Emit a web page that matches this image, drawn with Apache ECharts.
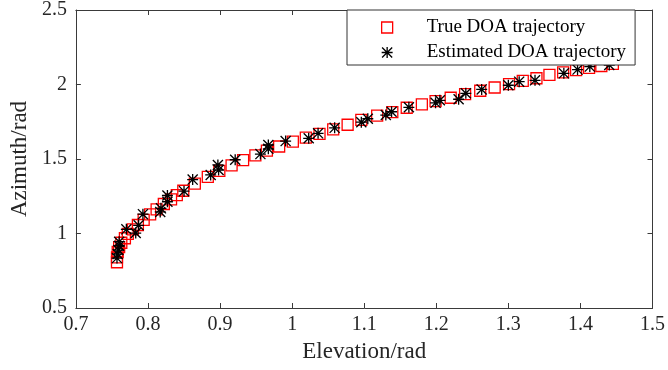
<!DOCTYPE html>
<html>
<head>
<meta charset="utf-8">
<script src="https://cdn.jsdelivr.net/npm/echarts@6/dist/echarts.min.js"></script>
<style>html,body{margin:0;padding:0;background:#fff;}#c{width:668px;height:370px;}</style>
</head>
<body>
<div id="c"></div>
<script>
// Elevation ticks / azimuth ticks
const xTicks = [0.7, 0.8, 0.9, 1, 1.1, 1.2, 1.3, 1.4, 1.5];
const yTicks = [0.5, 1, 1.5, 2, 2.5];

// True DOA trajectory
const trueElev = [0.757,0.757,0.758,0.760,0.763,0.768,0.772,0.779,0.786,0.794,0.803,0.812,0.822,0.832,0.840,0.849,0.865,0.883,0.899,0.916,0.932,0.949,0.965,0.982,1.001,1.019,1.038,1.057,1.077,1.096,1.118,1.139,1.159,1.180,1.199,1.220,1.240,1.261,1.281,1.301,1.320,1.339,1.357,1.376,1.394,1.412,1.429,1.445];
const trueAzim = [0.807,0.840,0.876,0.909,0.938,0.968,0.997,1.028,1.057,1.091,1.129,1.162,1.198,1.229,1.258,1.287,1.335,1.380,1.420,1.457,1.493,1.524,1.556,1.584,1.616,1.644,1.668,1.699,1.730,1.762,1.791,1.815,1.844,1.867,1.889,1.911,1.936,1.958,1.980,2.002,2.024,2.042,2.065,2.082,2.097,2.111,2.124,2.138];

// Estimated DOA trajectory
const estElev = [0.757,0.758,0.759,0.760,0.760,0.770,0.783,0.787,0.793,0.817,0.818,0.827,0.827,0.850,0.862,0.887,0.897,0.898,0.921,0.956,0.967,0.967,0.991,1.023,1.036,1.059,1.096,1.105,1.130,1.138,1.162,1.199,1.205,1.231,1.241,1.263,1.300,1.315,1.337,1.377,1.396,1.413,1.440];
const estAzim = [0.835,0.862,0.889,0.918,0.945,1.028,1.003,1.055,1.130,1.145,1.169,1.213,1.255,1.284,1.362,1.393,1.460,1.426,1.495,1.533,1.594,1.568,1.620,1.639,1.672,1.709,1.747,1.770,1.795,1.817,1.847,1.877,1.894,1.901,1.941,1.967,1.995,2.019,2.028,2.075,2.100,2.120,2.131];

const seriesNames = ['True DOA trajectory', 'Estimated DOA trajectory'];

const star = 'path://M4.4 0L5.6 0L5.6 10L4.4 10Z M0 4.4L10 4.4L10 5.6L0 5.6Z M0.85 0L10 9.15L9.15 10L0 0.85Z M9.15 0L10 0.85L0.85 10L0 9.15Z';

const font = 'Liberation Serif';
const axisColor = '#3a3a3a';
const textColor = '#262626';
const tickFont = 20;
const nameFont = 23;

const chart = echarts.init(document.getElementById('c'), null, {renderer: 'canvas'});

function axisCommon(show) {
  return {
    axisLine: {show: true, onZero: false, lineStyle: {color: axisColor, width: 1}},
    axisTick: {show: true, inside: true, length: 5, lineStyle: {color: axisColor}},
    splitLine: {show: false},
    axisLabel: {show: show, color: textColor, fontFamily: font, fontSize: tickFont}
  };
}

chart.setOption({
  animation: false,
  backgroundColor: '#fff',
  grid: {left: 74, right: 12, top: 10, bottom: 62, containLabel: false},
  xAxis: [
    Object.assign({
      type: 'value', min: xTicks[0], max: xTicks[xTicks.length - 1], interval: 0.1,
      position: 'bottom',
      name: 'Elevation/rad', nameLocation: 'middle', nameGap: 32,
      nameTextStyle: {color: textColor, fontFamily: font, fontSize: nameFont}
    }, axisCommon(true), {axisLabel: {show: true, color: textColor, fontFamily: font, fontSize: tickFont, margin: 7,
      formatter: v => String(parseFloat(v.toFixed(1)))}}),
    Object.assign({
      type: 'value', min: xTicks[0], max: xTicks[xTicks.length - 1], interval: 0.1, position: 'top'
    }, axisCommon(false))
  ],
  yAxis: [
    Object.assign({
      type: 'value', min: yTicks[0], max: yTicks[yTicks.length - 1], interval: 0.5,
      position: 'left',
      name: 'Azimuth/rad', nameLocation: 'middle', nameGap: 42, nameRotate: 90,
      nameTextStyle: {color: textColor, fontFamily: font, fontSize: nameFont}
    }, axisCommon(true), {axisLabel: {show: true, color: textColor, fontFamily: font, fontSize: tickFont, margin: 9}}),
    Object.assign({
      type: 'value', min: yTicks[0], max: yTicks[yTicks.length - 1], interval: 0.5, position: 'right'
    }, axisCommon(false))
  ],
  legend: {
    orient: 'vertical',
    left: 347, top: 10,
    padding: [8, 9, 3, 34],
    itemWidth: 11, itemHeight: 11, itemGap: 6,
    backgroundColor: '#fff',
    borderColor: '#333', borderWidth: 1, borderRadius: 0,
    textStyle: {color: '#000', fontFamily: font, fontSize: 19, padding: [0, 0, 0, 29]},
    data: [
      {name: seriesNames[0], icon: 'rect', itemStyle: {color: '#fff', borderColor: '#ff0000', borderWidth: 1.3}},
      {name: seriesNames[1], icon: star, itemStyle: {color: '#000'}}
    ]
  },
  series: [
    {
      name: seriesNames[0], type: 'scatter', xAxisIndex: 0, yAxisIndex: 0,
      symbol: 'rect', symbolSize: 11,
      itemStyle: {color: 'rgba(255,255,255,0)', borderColor: '#ff0000', borderWidth: 1.3, opacity: 1},
      data: trueElev.map((e, i) => [e, trueAzim[i]]),
      z: 2
    },
    {
      name: seriesNames[1], type: 'scatter', xAxisIndex: 0, yAxisIndex: 0,
      symbol: star, symbolSize: 11,
      itemStyle: {color: '#000', opacity: 1},
      data: estElev.map((e, i) => [e, estAzim[i]]),
      z: 3
    }
  ]
});
</script>
</body>
</html>
